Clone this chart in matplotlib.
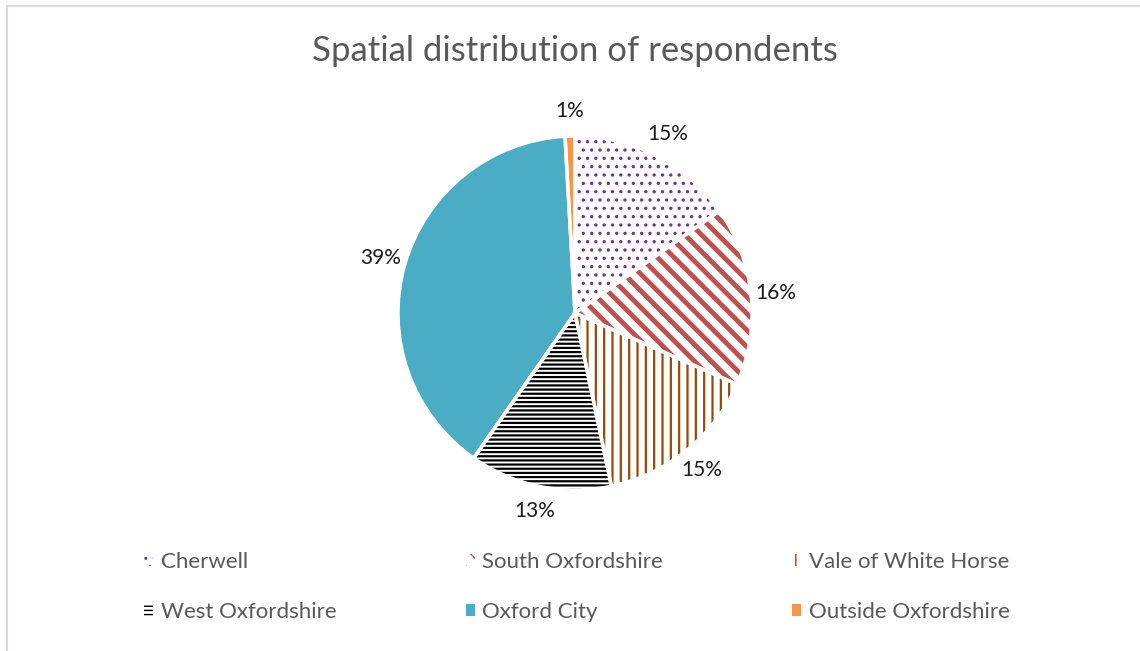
import matplotlib
matplotlib.use("Agg")
import matplotlib.pyplot as plt
from matplotlib.patches import Patch, Rectangle

plt.rcParams['font.family'] = ['Lato', 'DejaVu Sans']

# data (percent of respondents)
areas = ['Cherwell', 'South Oxfordshire', 'Vale of White Horse',
         'West Oxfordshire', 'Oxford City', 'Outside Oxfordshire']
shares = [15.2, 16.4, 15.1, 13.0, 39.4, 0.9]
colours = ['#7030A0', '#C0504D', '#984807', '#000000', '#4BACC6', '#F79646']
hatches = ['..', '\\\\', '||', '----', None, None]
hatch_lw = {'..': 1.2, '\\\\': 3.5, '||': 1.6, '----': 1.6}
fills = ['white', 'white', 'white', 'white', '#4BACC6', '#F79646']

W, H = 1140, 651
fig = plt.figure(figsize=(W / 100, H / 100), dpi=100)

# chart frame (only left and top edges visible in the crop)
fig.patches.append(Rectangle((7 / W, -0.1), 1.2, (H - 6) / H + 0.1,
                             transform=fig.transFigure, fill=False,
                             edgecolor='#D9D9D9', linewidth=1.5))

cx, cy, r = 575, 313, 177
ax = fig.add_axes([(cx - r) / W, (H - cy - r) / H, 2 * r / W, 2 * r / H])

# hatched/filled wedges
wedges, texts, autotexts = ax.pie(
    shares, startangle=90, counterclock=False, radius=1,
    colors=fills, autopct=lambda p: '%.0f%%' % p, pctdistance=1.14,
    wedgeprops=dict(linewidth=0),
    textprops=dict(fontsize=15, color='#1a1a1a'))
for w, c, h in zip(wedges, colours, hatches):
    w.set_edgecolor(c)
    if h:
        w.set_hatch(h)
        if hasattr(w, 'set_hatch_linewidth'):
            w.set_hatch_linewidth(hatch_lw[h])

# white separators between slices
ax.pie(shares, startangle=90, counterclock=False, radius=1,
       colors=['none'] * len(shares),
       wedgeprops=dict(linewidth=2.5, edgecolor='white', fill=False))

ax.set_xlim(-1, 1)
ax.set_ylim(-1, 1)
ax.set_aspect('equal')
ax.axis('off')

fig.text(575 / W, 1 - 51 / H, 'Spatial distribution of respondents',
         ha='center', va='center', fontsize=25, color='#595959')

handles = []
for a, c, h, f in zip(areas, colours, hatches, fills):
    p = Patch(facecolor=f, edgecolor=c, hatch=h, linewidth=0, label=a)
    handles.append(p)
order = [0, 3, 1, 4, 2, 5]
leg = fig.legend([handles[i] for i in order], [areas[i] for i in order],
                 ncol=3, loc='center', bbox_to_anchor=(577 / W, 1 - 587 / H),
                 frameon=False, fontsize=16, handlelength=0.4,
                 handleheight=0.4, handletextpad=0.35, labelspacing=1.35,
                 columnspacing=5.8)
for t in leg.get_texts():
    t.set_color('#595959')

fig.savefig('out.png', dpi=100)
